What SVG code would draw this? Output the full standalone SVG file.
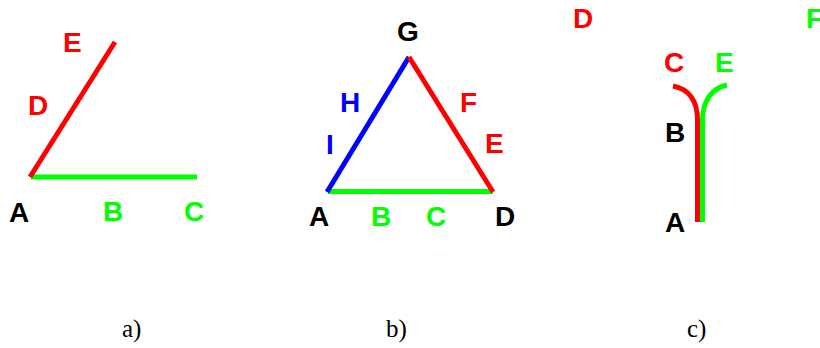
<svg xmlns="http://www.w3.org/2000/svg" width="820" height="348" viewBox="0 0 820 348">
<style>
.l{font-family:"Liberation Sans",Arial,sans-serif;font-weight:bold;font-size:28px}
.cap{font-family:"Liberation Serif","Times New Roman",serif;font-size:25px;fill:#000}
.k{fill:#000}.r{fill:#ff0000}.g{fill:#00ff00}.b{fill:#0000ff}
.s{fill:none;stroke-width:5}
.sr{stroke:#ff0000}.sg{stroke:#00ff00}.sb{stroke:#0000ff}
</style>
<rect width="820" height="348" fill="#fff"/>
<g id="connectors">
<line class="s sg" x1="31" y1="177" x2="197" y2="177"/>
<line class="s sr" x1="30" y1="177" x2="115" y2="42"/>
<line class="s sg" x1="328" y1="191.5" x2="493" y2="191.5"/>
<line class="s sb" x1="327" y1="192" x2="409" y2="57"/>
<line class="s sr" x1="409" y1="57" x2="493" y2="192"/>
<path class="s sr" style="stroke-width:5" d="M697.5,222 V120 C697.5,101 689,89 673,86"/>
<path class="s sg" d="M702.5,222 V120 C702.5,101 712,88 727,85"/>
</g>
<g id="panel-a">
<text class="l r" x="63" y="52">E</text>
<text class="l r" x="28" y="115">D</text>
<text class="l k" x="9" y="222">A</text>
<text class="l g" x="103" y="221">B</text>
<text class="l g" x="184" y="221">C</text>
<text class="cap" x="122" y="337">a)</text>
</g>
<g id="panel-b">
<text class="l k" x="397" y="41">G</text>
<text class="l b" x="340" y="112">H</text>
<text class="l b" x="326" y="154">I</text>
<text class="l r" x="460" y="112">F</text>
<text class="l r" x="485" y="153">E</text>
<text class="l k" x="309" y="226">A</text>
<text class="l g" x="371" y="226">B</text>
<text class="l g" x="426" y="226">C</text>
<text class="l k" x="495" y="226">D</text>
<text class="cap" x="386" y="337">b)</text>
</g>
<g id="panel-c">
<text class="l r" x="573" y="28">D</text>
<text class="l g" x="806" y="28">F</text>
<text class="l r" x="664" y="72">C</text>
<text class="l g" x="715" y="72">E</text>
<text class="l k" x="665" y="142">B</text>
<text class="l k" x="665" y="232">A</text>
<text class="cap" x="687" y="337">c)</text>
</g>
</svg>
